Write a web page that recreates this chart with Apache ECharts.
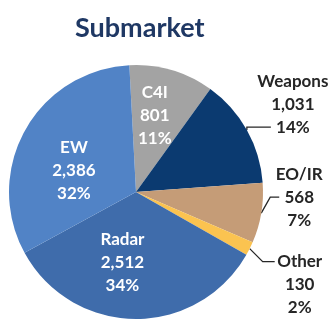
<!DOCTYPE html>
<html>
<head>
<meta charset="utf-8">
<script src="https://cdn.jsdelivr.net/npm/echarts@6/dist/echarts.min.js"></script>
<style>
  html, body { margin: 0; padding: 0; background: #ffffff; }
  #chart { width: 333px; height: 325px; }
</style>
</head>
<body>
<div id="chart"></div>
<script>
// Submarket split
const categories = ['C4I', 'Weapons', 'EO/IR', 'Other', 'Radar', 'EW'];
const values = [801, 1031, 568, 130, 2512, 2386];
const shares = ['11%', '14%', '7%', '2%', '34%', '32%'];

const sliceColors = ['#a3a3a3', '#0b3a70', '#c59c77', '#fbc350', '#3f6cab', '#5183c6'];
const labelOutside = [false, true, true, true, false, false];
// leader line shape for outside labels: [bend dx, bend dy, horizontal run]
const leaderShape = [null, [0, -3, 24], [9, -16, 9], [13, 13, 12], null, null];
// which text line the leader points at, and distance to the text centre
const leaderAnchor = [null, 'bottom', 'middle', 'top', null, null];
const leaderGap = [0, 22, 20, 25, 0, 0];
// nudges for labels drawn inside the slices
const insideNudge = [[0, -13], null, null, null, [-13, 4], [-4, 11]];

const LINE_H = 23;

function fmt(v) {
  return String(v).replace(/\B(?=(\d{3})+(?!\d))/g, ',');
}

const chart = echarts.init(document.getElementById('chart'), null, { renderer: 'canvas' });

const data = categories.map((name, i) => ({
  name: name,
  value: values[i],
  itemStyle: { color: sliceColors[i] },
  label: labelOutside[i]
    ? { position: 'outside', color: '#262626' }
    : { position: 'inside', color: '#ffffff' },
  labelLine: { show: labelOutside[i], length: 4, length2: 10 }
}));

chart.setOption({
  animation: false,
  backgroundColor: '#ffffff',
  title: {
    text: 'Submarket',
    left: 70,
    top: 10,
    textStyle: {
      fontFamily: 'Lato',
      fontWeight: 'bold',
      fontSize: 27,
      color: '#1f3864'
    }
  },
  series: [{
    type: 'pie',
    center: [136, 192],
    radius: 127,
    startAngle: 93,
    clockwise: true,
    avoidLabelOverlap: false,
    itemStyle: { borderWidth: 0 },
    label: {
      fontFamily: 'Lato',
      fontWeight: 'bold',
      fontSize: 17,
      lineHeight: LINE_H,
      align: 'center',
      formatter: p => p.name + '\n' + fmt(p.value) + '\n' + shares[p.dataIndex]
    },
    labelLine: {
      lineStyle: { color: '#262626', width: 1.3 }
    },
    labelLayout: function (params) {
      const i = params.dataIndex;
      if (labelOutside[i]) {
        const pts = params.labelLinePoints;
        if (!pts) return {};
        const p0 = pts[0];
        const s = leaderShape[i];
        const p1 = [p0[0] + s[0], p0[1] + s[1]];
        const p2 = [p1[0] + s[2], p1[1]];
        let y = p2[1];
        let va = 'middle';
        if (leaderAnchor[i] === 'bottom') { y = p2[1] + LINE_H / 2; va = 'bottom'; }
        if (leaderAnchor[i] === 'top') { y = p2[1] - LINE_H / 2; va = 'top'; }
        return {
          x: p2[0] + leaderGap[i],
          y: y,
          align: 'center',
          verticalAlign: va,
          labelLinePoints: [p0, p1, p2]
        };
      }
      const n = insideNudge[i];
      return n ? { dx: n[0], dy: n[1] } : {};
    },
    data: data
  }]
});
</script>
</body>
</html>
